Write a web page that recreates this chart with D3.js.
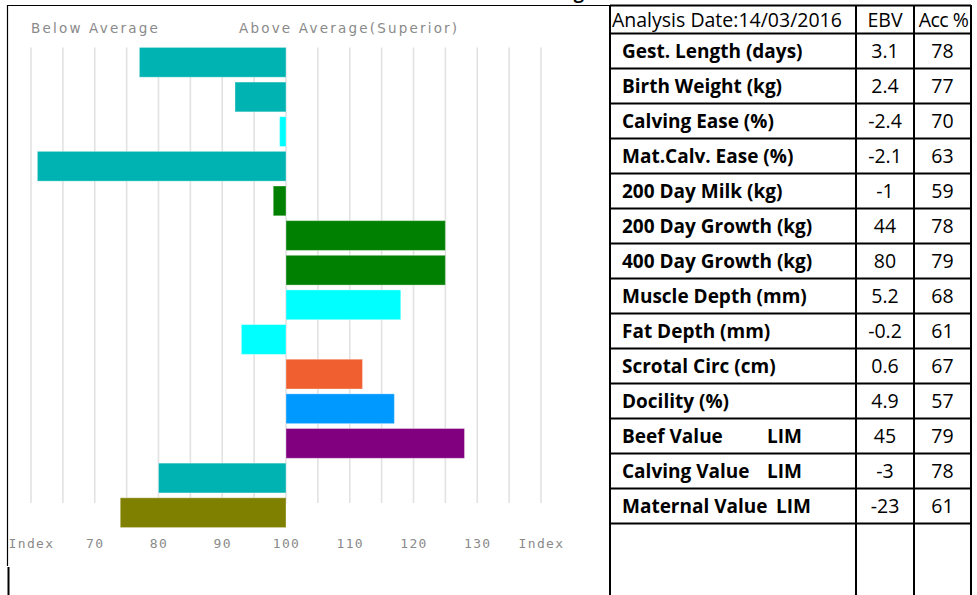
<!DOCTYPE html>
<html>
<head>
<meta charset="utf-8">
<script src="https://cdn.jsdelivr.net/npm/d3@7"></script>
<style>
  body { margin: 0; background: #fff; }
</style>
</head>
<body>
<div id="chart"></div>
<script>
const traits = ['Gest. Length (days)', 'Birth Weight (kg)', 'Calving Ease (%)', 'Mat.Calv. Ease (%)',
  '200 Day Milk (kg)', '200 Day Growth (kg)', '400 Day Growth (kg)', 'Muscle Depth (mm)',
  'Fat Depth (mm)', 'Scrotal Circ (cm)', 'Docility (%)', 'Beef Value',
  'Calving Value', 'Maternal Value'];
const breedTags = ['', '', '', '', '', '', '', '', '', '', '', 'LIM', 'LIM', 'LIM'];
const indexValues = [77, 92, 99, 61, 98, 125, 125, 118, 93, 112, 117, 128, 80, 74];
const ebvValues = ['3.1', '2.4', '-2.4', '-2.1', '-1', '44', '80', '5.2', '-0.2', '0.6', '4.9', '45', '-3', '-23'];
const accValues = ['78', '77', '70', '63', '59', '78', '79', '68', '61', '67', '57', '79', '78', '61'];
const barColors = ['#00b3b3', '#00b3b3', '#00ffff', '#00b3b3', '#008000', '#008000', '#008000',
  '#00ffff', '#00ffff', '#f05f2f', '#0099ff', '#800080', '#00b3b3', '#808000'];
const tickValues = [60, 70, 80, 90, 100, 110, 120, 130, 140];
const headers = ['Analysis Date:14/03/2016', 'EBV', 'Acc %'];

const W = 977, H = 595;
const svg = d3.select('#chart').append('svg')
  .attr('width', W).attr('height', H);

// ---- index chart ----
const x = d3.scaleLinear().domain([60, 140]).range([31, 541]);
const y = d3.scaleBand().domain(d3.range(traits.length))
  .range([45, 530]).paddingInner(0.14).paddingOuter(0.07);
const gridBottom = 503;

svg.append('g')
  .selectAll('line')
  .data(d3.range(60, 141, 5))
  .enter().append('line')
    .attr('x1', d => x(d)).attr('x2', d => x(d))
    .attr('y1', y(0)).attr('y2', gridBottom)
    .attr('stroke', '#e2e2e2').attr('stroke-width', 1.6);

svg.append('g')
  .selectAll('rect')
  .data(indexValues)
  .enter().append('rect')
    .attr('x', d => Math.min(x(d), x(100)))
    .attr('width', d => Math.abs(x(d) - x(100)))
    .attr('y', (d, i) => y(i))
    .attr('height', y.bandwidth())
    .attr('fill', (d, i) => barColors[i])
    .attr('stroke', 'rgba(255,255,255,0.35)')
    .attr('stroke-width', 1);

const xAxis = d3.axisBottom(x)
  .tickValues(tickValues)
  .tickSize(0)
  .tickFormat(d => (d === 60 || d === 140) ? 'Index' : d);

svg.append('g')
  .attr('transform', 'translate(0,536)')
  .call(xAxis)
  .call(g => g.select('.domain').remove())
  .selectAll('text')
    .attr('fill', '#8a8a8a')
    .style('font-family', '"DejaVu Sans Mono", monospace')
    .style('font-size', '13px')
    .style('letter-spacing', '1.4px');

const topLabels = [['Below Average', 31], ['Above Average(Superior)', 239]];
svg.append('g')
  .selectAll('text')
  .data(topLabels)
  .enter().append('text')
    .attr('x', d => d[1]).attr('y', 33)
    .attr('fill', '#8a8a8a')
    .style('font-family', '"DejaVu Sans", Verdana, sans-serif')
    .style('font-size', '13.5px')
    .style('letter-spacing', '2.2px')
    .text(d => d[0]);

// cut-off title above
svg.append('text')
  .attr('x', 584).attr('y', -1)
  .attr('text-anchor', 'end')
  .style('font-family', '"Open Sans", sans-serif')
  .style('font-weight', 'bold')
  .style('font-size', '18px')
  .text('Index Rating');

// frame around the chart
svg.append('line').attr('x1', 7).attr('x2', 610).attr('y1', 5.5).attr('y2', 5.5)
  .attr('stroke', '#000').attr('stroke-width', 1.2);
svg.append('line').attr('x1', 7.5).attr('x2', 7.5).attr('y1', 5).attr('y2', 566)
  .attr('stroke', '#000').attr('stroke-width', 1.2);
svg.append('line').attr('x1', 8.5).attr('x2', 8.5).attr('y1', 567).attr('y2', H)
  .attr('stroke', '#000').attr('stroke-width', 2);

// ---- table ----
const cols = [610, 856, 914, 971];
const rowY = d3.scaleLinear().domain([0, traits.length]).range([33.5, 523.5]);
const rowH = rowY(1) - rowY(0);
const font = '"Open Sans", sans-serif';
const fs = '19.5px';
const fsBold = '19px';

const tbl = svg.append('g');
cols.forEach(c => {
  tbl.append('line').attr('x1', c).attr('x2', c).attr('y1', 5).attr('y2', H)
    .attr('stroke', '#000').attr('stroke-width', 2);
});
[5.5].concat(d3.range(traits.length + 1).map(i => rowY(i))).forEach(v => {
  tbl.append('line').attr('x1', cols[0]).attr('x2', cols[3]).attr('y1', v).attr('y2', v)
    .attr('stroke', '#000').attr('stroke-width', 2);
});

// header
const headX = [612, (cols[1] + cols[2]) / 2, (cols[2] + cols[3]) / 2 + 1];
tbl.selectAll('.head')
  .data(headers)
  .enter().append('text')
    .attr('class', 'head')
    .attr('x', (d, i) => headX[i]).attr('y', 20).attr('dy', '0.35em')
    .attr('text-anchor', (d, i) => i === 0 ? 'start' : 'middle')
    .style('font-family', font).style('font-size', fs)
    .style('letter-spacing', (d, i) => i === 2 ? '-0.5px' : '0px')
    .text(d => d);

const rows = tbl.selectAll('.row')
  .data(traits)
  .enter().append('g')
    .attr('class', 'row')
    .attr('transform', (d, i) => 'translate(0,' + (rowY(i) + rowH / 2) + ')');

rows.append('text')
  .attr('x', 622).attr('dy', '0.35em')
  .style('font-family', font).style('font-weight', 'bold').style('font-size', fsBold)
  .text(d => d);

rows.append('text')
  .attr('x', (d, i) => i === 13 ? 776 : 767).attr('dy', '0.35em')
  .style('font-family', font).style('font-weight', 'bold').style('font-size', fsBold)
  .text((d, i) => breedTags[i]);

rows.append('text')
  .attr('x', (cols[1] + cols[2]) / 2).attr('dy', '0.35em')
  .attr('text-anchor', 'middle')
  .style('font-family', font).style('font-size', fs)
  .text((d, i) => ebvValues[i]);

rows.append('text')
  .attr('x', (cols[2] + cols[3]) / 2).attr('dy', '0.35em')
  .attr('text-anchor', 'middle')
  .style('font-family', font).style('font-size', fs)
  .text((d, i) => accValues[i]);
</script>
</body>
</html>
